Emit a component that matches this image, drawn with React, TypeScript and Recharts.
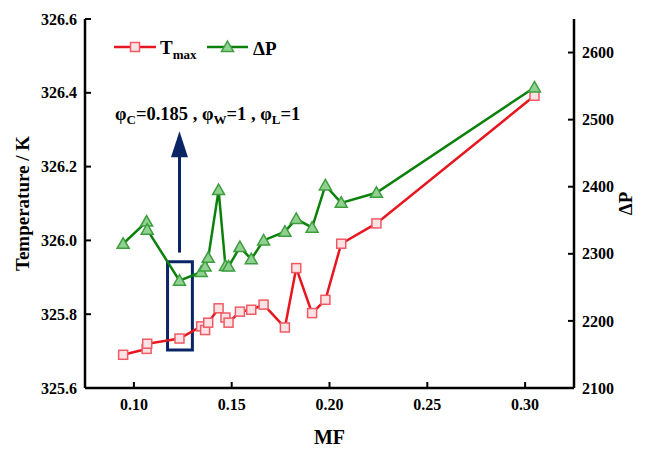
import React from 'react';
import {
  ComposedChart,
  Line,
  XAxis,
  YAxis,
  ReferenceArea,
  ReferenceLine,
  ReferenceDot,
} from 'recharts';

// MF values (x), shared by both series
const mfValues = [
  0.0945, 0.1065, 0.1068, 0.1233, 0.1344, 0.1364, 0.138, 0.1433, 0.1468, 0.1484,
  0.1542, 0.16, 0.1663, 0.1772, 0.183, 0.1911, 0.1979, 0.206, 0.224, 0.3048,
];
// T max (K), left axis
const tMaxValues = [
  325.69, 325.706, 325.72, 325.734, 325.767, 325.757, 325.777, 325.816, 325.791, 325.777,
  325.807, 325.812, 325.826, 325.764, 325.925, 325.803, 325.839, 325.991, 326.046, 326.392,
];
// pressure drop, right axis
const dPValues = [
  2315, 2348, 2336, 2260, 2273, 2281, 2294, 2395, 2282, 2281,
  2310, 2292, 2320, 2333, 2352, 2339, 2402, 2376, 2391, 2548,
];

const xTicks = [0.1, 0.15, 0.2, 0.25, 0.3];
const tTicks = [325.6, 325.8, 326.0, 326.2, 326.4, 326.6];
const pTicks = [2100, 2200, 2300, 2400, 2500, 2600];

const data = mfValues.map((mf, i) => ({ mf, t: tMaxValues[i], p: dPValues[i] }));

const FONT = '"Liberation Serif", "Times New Roman", serif';
const NAVY = '#0b2466';
const RED = '#e8161e';
const GREEN = '#0b800b';

const tickText = { fontFamily: FONT, fontWeight: 700, fontSize: 16, fill: '#000' };

const LeftTick = ({ x, y, payload }: any) => (
  <g>
    <line x1={x + 8} x2={x + 14} y1={y} y2={y} stroke="#000" strokeWidth={2} />
    <text x={x} y={y} dy="0.35em" textAnchor="end" style={tickText}>
      {Number(payload.value).toFixed(1)}
    </text>
  </g>
);

const RightTick = ({ x, y, payload }: any) => (
  <g>
    <line x1={x - 8} x2={x - 14} y1={y} y2={y} stroke="#000" strokeWidth={2} />
    <text x={x} y={y} dy="0.35em" textAnchor="start" style={tickText}>
      {payload.value}
    </text>
  </g>
);

const BottomTick = ({ x, y, payload }: any) => (
  <g>
    <line x1={x} x2={x} y1={y - 8} y2={y - 14} stroke="#000" strokeWidth={2} />
    <text x={x} y={y} dy="0.9em" textAnchor="middle" style={tickText}>
      {Number(payload.value).toFixed(2)}
    </text>
  </g>
);

const squareDot = (props: any) => {
  const { cx, cy, index } = props;
  return (
    <rect
      key={`sq-${index}`}
      x={cx - 4.5}
      y={cy - 4.5}
      width={9}
      height={9}
      fill="#fbe3e5"
      stroke="#ef5a64"
      strokeWidth={1.5}
    />
  );
};

const triangleDot = (props: any) => {
  const { cx, cy, index } = props;
  return (
    <path
      key={`tr-${index}`}
      d={`M${cx},${cy - 6} L${cx + 6},${cy + 4.5} L${cx - 6},${cy + 4.5} Z`}
      fill="#90d090"
      stroke="#3e9e3e"
      strokeWidth={1.5}
    />
  );
};

const arrowHead = (props: any) => {
  const { cx, cy } = props;
  return <path d={`M${cx},${cy} L${cx + 8.5},${cy + 26} L${cx - 8.5},${cy + 26} Z`} fill={NAVY} />;
};

export default function App() {
  return (
    <div
      style={{
        position: 'relative',
        width: 653,
        height: 450,
        margin: '-8px -8px 0 -8px',
        background: '#fff',
      }}
    >
      <ComposedChart
        width={653}
        height={450}
        data={data}
        margin={{ top: 19, right: 0, left: 0, bottom: 0 }}
      >
        <XAxis
          dataKey="mf"
          type="number"
          domain={[0.075, 0.325]}
          ticks={xTicks}
          height={62}
          tickSize={0}
          tickMargin={8}
          tick={<BottomTick />}
          axisLine={{ stroke: '#000', strokeWidth: 2.5 }}
        />
        <YAxis
          yAxisId="t"
          type="number"
          domain={[325.6, 326.6]}
          ticks={tTicks}
          width={85}
          tickSize={0}
          tickMargin={8}
          tick={<LeftTick />}
          axisLine={{ stroke: '#000', strokeWidth: 2.5 }}
          allowDataOverflow
          label={{
            value: 'Temperature / K',
            angle: -90,
            position: 'insideLeft',
            offset: 22,
            style: { textAnchor: 'middle', fontFamily: FONT, fontWeight: 700, fontSize: 19, fill: '#000' },
          }}
        />
        <YAxis
          yAxisId="p"
          orientation="right"
          type="number"
          domain={[2100, 2650]}
          ticks={pTicks}
          width={79}
          tickSize={0}
          tickMargin={8}
          tick={<RightTick />}
          axisLine={{ stroke: '#000', strokeWidth: 2.5 }}
          allowDataOverflow
          label={{
            value: 'ΔP',
            angle: -90,
            position: 'insideRight',
            offset: 28,
            style: { textAnchor: 'middle', fontFamily: FONT, fontWeight: 700, fontSize: 19, fill: '#000' },
          }}
        />

        <ReferenceArea
          yAxisId="t"
          x1={0.1172}
          x2={0.1299}
          y1={325.703}
          y2={325.942}
          fill="none"
          fillOpacity={0}
          stroke={NAVY}
          strokeWidth={3}
        />
        <ReferenceLine
          yAxisId="t"
          segment={[
            { x: 0.1233, y: 325.967 },
            { x: 0.1233, y: 326.23 },
          ]}
          stroke={NAVY}
          strokeWidth={3}
        />
        <ReferenceDot yAxisId="t" x={0.1233} y={326.296} shape={arrowHead} />

        <Line
          yAxisId="t"
          dataKey="t"
          stroke={RED}
          strokeWidth={2.5}
          dot={squareDot}
          activeDot={false}
          isAnimationActive={false}
        />
        <Line
          yAxisId="p"
          dataKey="p"
          stroke={GREEN}
          strokeWidth={2.5}
          dot={triangleDot}
          activeDot={false}
          isAnimationActive={false}
        />
      </ComposedChart>

      <svg
        width={653}
        height={450}
        style={{ position: 'absolute', left: 0, top: 0, pointerEvents: 'none' }}
      >
        {/* legend */}
        <line x1={114} x2={156} y1={47} y2={47} stroke={RED} strokeWidth={2.5} />
        <rect x={130.5} y={42.5} width={9} height={9} fill="#fbe3e5" stroke="#ef5a64" strokeWidth={1.5} />
        <text x={160} y={54} style={{ fontFamily: FONT, fontWeight: 700, fontSize: 19 }}>
          T<tspan fontSize={13} dy={5}>max</tspan>
        </text>
        <line x1={207} x2={248} y1={47} y2={47} stroke={GREEN} strokeWidth={2.5} />
        <path d="M227.5,41 L233.5,51.5 L221.5,51.5 Z" fill="#90d090" stroke="#3e9e3e" strokeWidth={1.5} />
        <text x={253} y={55} style={{ fontFamily: FONT, fontWeight: 700, fontSize: 19 }}>
          ΔP
        </text>

        {/* annotation */}
        <text x={115} y={120} style={{ fontFamily: FONT, fontWeight: 700, fontSize: 18.5 }}>
          φ<tspan fontSize={13} dy={4}>C</tspan>
          <tspan dy={-4}>=0.185 , φ</tspan>
          <tspan fontSize={13} dy={4}>W</tspan>
          <tspan dy={-4}>=1 , φ</tspan>
          <tspan fontSize={13} dy={4}>L</tspan>
          <tspan dy={-4}>=1</tspan>
        </text>

        {/* x-axis title */}
        <text
          x={329.5}
          y={444}
          textAnchor="middle"
          style={{ fontFamily: FONT, fontWeight: 700, fontSize: 20 }}
        >
          MF
        </text>
      </svg>
    </div>
  );
}
